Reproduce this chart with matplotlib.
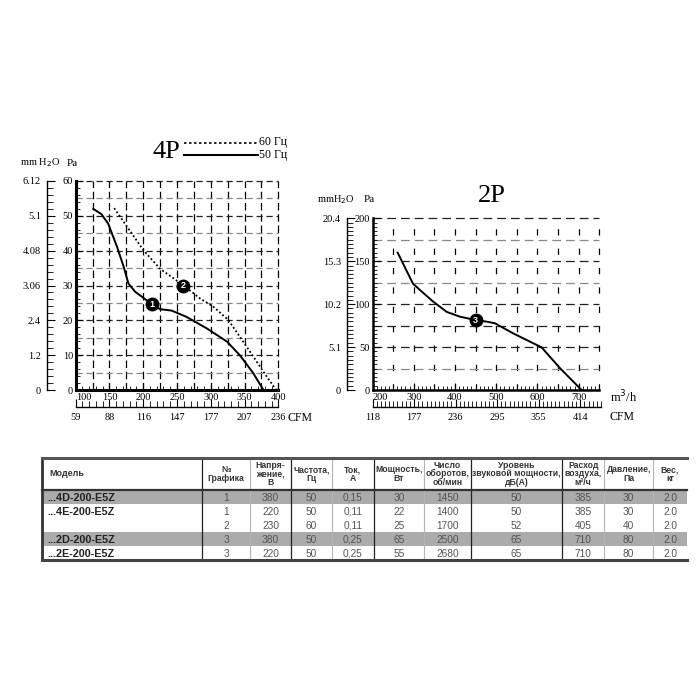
import matplotlib
matplotlib.use('Agg')
import numpy as np
import matplotlib.pyplot as plt
from matplotlib.ticker import MultipleLocator

W = H = 700
SERIF = ['Liberation Serif', 'DejaVu Serif']
SANS = ['Liberation Sans Narrow', 'Liberation Sans', 'DejaVu Sans']

# ---------------- data ----------------
# 4P chart, curve 1 (50 Hz, solid)
p4_50_flow = [126, 138, 148, 161, 171, 178, 188, 200, 213, 225, 242, 264, 294, 324, 343, 363, 378]
p4_50_pa = [52, 50.5, 47.8, 41.2, 35.4, 30.6, 28.2, 26.5, 24.6, 23.2, 22.8, 21, 17.7, 13.9, 10, 4.8, 0]
# 4P chart, curve 2 (60 Hz, dotted)
p4_60_flow = [157, 176, 200, 225, 259, 284, 304, 326, 343, 363, 383, 397]
p4_60_pa = [52.2, 46.9, 40.2, 34.8, 30.1, 26.3, 23.9, 20.1, 15.3, 9.6, 3.8, 0]
# 2P chart, curve 3
p2_flow = [261, 298, 315, 347, 380, 412, 450, 477, 497, 541, 582, 610, 655, 707]
p2_pa = [160, 124, 116.5, 103, 91, 85.4, 81.5, 79.6, 77.7, 66, 56.3, 49.7, 25.3, 0]

p4_markers = [('1', 213, 24.6), ('2', 259, 30.0)]
p2_markers = [('3', 450, 81.5)]

p4_x_ticks = [100, 150, 200, 250, 300, 350, 400]
p4_cfm_labels = ['59', '88', '116', '147', '177', '207', '236']
p4_pa_ticks = [0, 10, 20, 30, 40, 50, 60]
p4_mm_labels = ['0', '1.2', '2.4', '3.06', '4.08', '5.1', '6.12']

p2_x_ticks = [200, 300, 400, 500, 600, 700]
p2_cfm_labels = ['118', '177', '236', '295', '355', '414']
p2_pa_ticks = [0, 50, 100, 150, 200]
p2_mm_labels = ['0', '5.1', '10.2', '15.3', '20.4']

legend_labels = ['60 Гц', '50 Гц']

table_header = ['Модель', '№\nГрафика', 'Напря-\nжение,\nВ', 'Частота,\nГц', 'Ток,\nА',
                'Мощность,\nВт', 'Число\nоборотов,\nоб/мин', 'Уровень\nзвуковой мощности,\nдБ(А)',
                'Расход\nвоздуха,\nм³/ч', 'Давление,\nПа', 'Вес,\nкг']
table_models = ['...4D-200-E5Z', '...4E-200-E5Z', '', '...2D-200-E5Z', '...2E-200-E5Z']
table_graph = ['1', '1', '2', '3', '3']
table_voltage = ['380', '220', '230', '380', '220']
table_freq = ['50', '50', '60', '50', '50']
table_current = ['0,15', '0,11', '0,11', '0,25', '0,25']
table_power = ['30', '22', '25', '65', '55']
table_rpm = ['1450', '1400', '1700', '2500', '2680']
table_noise = ['50', '50', '52', '65', '65']
table_airflow = ['385', '385', '405', '710', '710']
table_pressure = ['30', '30', '40', '80', '80']
table_weight = ['2.0', '2.0', '2.0', '2.0', '2.0']
table_shaded = [True, False, False, True, False]


def box(x0, y0, x1, y1):
    """pixel box (left, top, right, bottom) -> figure fraction rect"""
    return [x0 / W, 1 - y1 / H, (x1 - x0) / W, (y1 - y0) / H]


fig = plt.figure(figsize=(7, 7), dpi=100)
fig.patch.set_facecolor('white')

# overlay in pixel coordinates
ov = fig.add_axes([0, 0, 1, 1], zorder=0)
ov.set_xlim(0, W)
ov.set_ylim(H, 0)
ov.axis('off')
ov.patch.set_alpha(0)


def fan_chart(px, xlim, ylim, vgrid, hgrid, hgrid_minor, vdash, hdash, xminor, yminor, spine_lw):
    ax = fig.add_axes(box(*px), zorder=2)
    ax.patch.set_alpha(0)
    ax.set_xlim(*xlim)
    ax.set_ylim(*ylim)
    for s in ['top', 'right']:
        ax.spines[s].set_visible(False)
    for s in ['left', 'bottom']:
        ax.spines[s].set_linewidth(spine_lw)
        ax.spines[s].set_color('black')
    for v in vgrid:
        ax.plot([v, v], ylim, color='black', lw=0.9, ls=vdash, zorder=1, clip_on=False)
    for h in hgrid:
        c = '#888888' if h in hgrid_minor else '#222222'
        ax.plot(xlim, [h, h], color=c, lw=0.9, ls=hdash, zorder=1, clip_on=False)
    ax.xaxis.set_minor_locator(MultipleLocator(xminor))
    ax.yaxis.set_minor_locator(MultipleLocator(yminor))
    ax.tick_params(which='both', direction='in', colors='black')
    ax.tick_params(which='major', length=5, width=0.8, labelsize=7.5, pad=2)
    ax.tick_params(which='minor', length=3, width=0.6)
    return ax


def side_axis(x, y_top, y_bot, ylim, ticks, labels, minor):
    a = fig.add_axes(box(x, y_top, x + 0.5, y_bot), zorder=2)
    a.patch.set_alpha(0)
    a.set_ylim(*ylim)
    for s in ['top', 'right', 'bottom']:
        a.spines[s].set_visible(False)
    a.spines['left'].set_linewidth(1.0)
    a.set_xticks([])
    a.set_yticks(ticks)
    a.set_yticklabels(labels, family=SERIF, fontsize=7.5)
    a.yaxis.set_minor_locator(MultipleLocator(minor))
    a.tick_params(which='both', direction='in')
    a.tick_params(which='major', length=6, width=0.8, pad=4)
    a.tick_params(which='minor', length=4, width=0.6)
    return a


def cfm_axis(x0, x1, y, xlim, ticks, labels, minor):
    a = fig.add_axes(box(x0, y - 0.5, x1, y), zorder=2)
    a.patch.set_alpha(0)
    a.set_xlim(*xlim)
    for s in ['top', 'right', 'left']:
        a.spines[s].set_visible(False)
    a.spines['bottom'].set_linewidth(1.0)
    a.set_yticks([])
    a.set_xticks(ticks)
    a.set_xticklabels(labels, family=SERIF, fontsize=7.5)
    a.xaxis.set_minor_locator(MultipleLocator(minor))
    a.tick_params(which='both', direction='in')
    a.tick_params(which='major', length=6, width=0.8, pad=5)
    a.tick_params(which='minor', length=4, width=0.6)
    return a


def marker(ax, label, x, y):
    ax.plot([x], [y], 'o', ms=9, color='black', zorder=5)
    ax.text(x, y, label, color='white', fontsize=6.5, fontweight='bold', family=SANS,
            ha='center', va='center', zorder=6)


# ---------- 4P chart ----------
ax1 = fan_chart((75.7, 181, 278.3, 390), (100, 400), (0, 60),
                np.arange(125, 401, 25), np.arange(5, 61, 5), list(range(5, 60, 10)),
                (0, (6, 3)), (0, (5, 3)), 10, 2, 2.2)
ax1.set_xticks(p4_x_ticks)
ax1.set_yticks(p4_pa_ticks)
for lab in ax1.get_xticklabels() + ax1.get_yticklabels():
    lab.set_family(SERIF)
ax1.get_xticklabels()[0].set_horizontalalignment('left')
ax1.plot(p4_50_flow, p4_50_pa, color='black', lw=1.4, zorder=4)
ax1.plot(p4_60_flow, p4_60_pa, color='black', lw=1.3, ls=(0, (1, 1.3)), zorder=4)
for lab, x, y in p4_markers:
    marker(ax1, lab, x, y)

side_axis(46.5, 181, 390, (0, 60), p4_pa_ticks, p4_mm_labels, 2)
cfm_axis(75.7, 278.3, 406.5, (100, 400), p4_x_ticks, p4_cfm_labels, 10)

ov.text(166, 152, '4P', family=SERIF, fontsize=19, ha='center', va='center')
ov.plot([184, 258], [142.5, 142.5], color='black', lw=1.2, ls=(0, (1.5, 1.5)))
ov.plot([184, 258], [155, 155], color='black', lw=1.5)
ov.text(259, 142.5, legend_labels[0], family=SERIF, fontsize=8.5, va='center', ha='left')
ov.text(259, 155, legend_labels[1], family=SERIF, fontsize=8.5, va='center', ha='left')
ov.text(40, 163, 'mm H$_2$O', family=SERIF, fontsize=7.5, va='center', ha='center')
ov.text(72, 163, 'Pa', family=SERIF, fontsize=8, va='center', ha='center')
ov.text(287, 418, 'CFM', family=SERIF, fontsize=8.5, va='center', ha='left')

# ---------- 2P chart ----------
ax2 = fan_chart((372.5, 218.3, 599.3, 390), (200, 750), (0, 200),
                np.arange(250, 751, 50), np.arange(25, 201, 25), [25, 125, 175],
                (0, (5, 10.5)), (0, (7, 4)), 10, 5, 1.8)
ax2.set_xticks(p2_x_ticks)
ax2.set_yticks(p2_pa_ticks)
for lab in ax2.get_xticklabels() + ax2.get_yticklabels():
    lab.set_family(SERIF)
ax2.get_xticklabels()[0].set_horizontalalignment('left')
ax2.plot(p2_flow, p2_pa, color='black', lw=1.4, zorder=4)
for lab, x, y in p2_markers:
    marker(ax2, lab, x, y)

side_axis(346.7, 218.3, 390, (0, 200), p2_pa_ticks, p2_mm_labels, 5)
cfm_axis(372.5, 601, 406.5, (200, 750), p2_x_ticks, p2_cfm_labels, 10)

ov.text(492, 196, '2P', family=SERIF, fontsize=19, ha='center', va='center')
ov.text(336, 200, 'mmH$_2$O', family=SERIF, fontsize=7.5, va='center', ha='center')
ov.text(369, 200, 'Pa', family=SERIF, fontsize=8, va='center', ha='center')
ov.text(610, 397, 'm$^3$/h', family=SERIF, fontsize=9, va='center', ha='left')
ov.text(610, 417, 'CFM', family=SERIF, fontsize=8.5, va='center', ha='left')

# ---------- table ----------
cols = [41.7, 202.3, 250, 291, 331.7, 374, 424, 470.7, 562.3, 604, 653.3, 686.7]
dark_cols = {202.3, 291, 374, 470.7, 562.3}
top, head_bot, row_h = 457.7, 490.0, 14.0
n_rows = len(table_models)
bottom = head_bot + n_rows * row_h

rows = list(zip(table_models, table_graph, table_voltage, table_freq, table_current, table_power,
                table_rpm, table_noise, table_airflow, table_pressure, table_weight))

for i, shaded in enumerate(table_shaded):
    if shaded:
        y0 = head_bot + i * row_h
        ov.add_patch(plt.Rectangle((cols[0], y0), cols[-1] - cols[0], row_h,
                                   facecolor='#ababab', edgecolor='none', zorder=1))

for c in cols[1:-1]:
    ov.plot([c, c], [top, bottom], color='#222222' if c in dark_cols else '#b5b5b5',
            lw=0.9 if c in dark_cols else 0.8, zorder=2)
ov.plot([cols[0], cols[0]], [top, bottom], color='#333333', lw=2.0, zorder=3)
ov.plot([cols[0], cols[-1]], [top, top], color='#555555', lw=2.2, zorder=3)
ov.plot([cols[0], cols[-1]], [head_bot, head_bot], color='#333333', lw=1.6, zorder=3)
ov.plot([cols[0], cols[-1]], [bottom, bottom], color='#444444', lw=2.2, zorder=3)

for j, h in enumerate(table_header):
    if j == 0:
        ov.text(cols[0] + 8, (top + head_bot) / 2, h, family=SANS, fontsize=6.5,
                fontweight='bold', color='#333333', va='center', ha='left', zorder=4)
    else:
        ov.text((cols[j] + cols[j + 1]) / 2, (top + head_bot) / 2, h, family=SANS,
                fontsize=6.2, fontweight='bold', color='#333333', va='center', ha='center',
                linespacing=0.95, zorder=4)

for i, r in enumerate(rows):
    yc = head_bot + (i + 0.5) * row_h
    ov.text(cols[0] + 6, yc, r[0], family=SANS, fontsize=7.8, fontweight='bold',
            color='#222222', va='center_baseline', ha='left', zorder=4)
    for j in range(1, len(r)):
        ov.text((cols[j] + cols[j + 1]) / 2, yc, r[j], family=SANS, fontsize=7.3,
                color='#555555', va='center_baseline', ha='center', zorder=4)

fig.savefig('out.png', dpi=100, facecolor='white')
